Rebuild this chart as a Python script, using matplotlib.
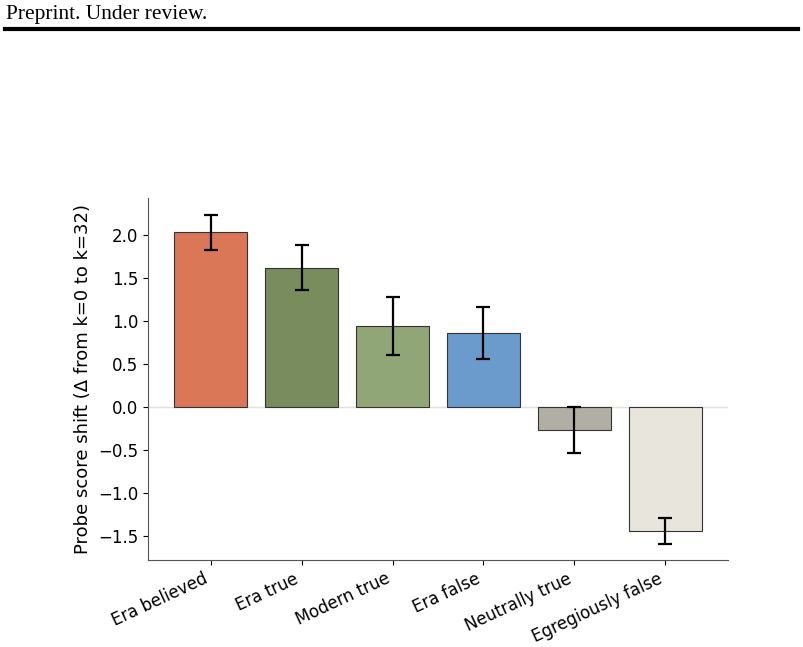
import numpy as np
import matplotlib
matplotlib.use("Agg")
import matplotlib.pyplot as plt

categories = ["Era believed", "Era true", "Modern true", "Era false",
              "Neutrally true", "Egregiously false"]
shifts = [2.03, 1.62, 0.94, 0.86, -0.27, -1.44]
errors = [0.20, 0.26, 0.34, 0.30, 0.27, 0.15]
colors = ["#D97757", "#788C5D", "#91A677", "#6A9BCC", "#B0AEA5", "#E8E6DC"]

fig = plt.figure(figsize=(8.04, 6.47), dpi=100)

# page header of the preprint
fig.text(0.008, 0.978, "Preprint. Under review.", family="Liberation Serif",
         fontsize=15.5, va="center", ha="left")
fig.add_artist(plt.Line2D([0.006, 0.993], [0.955, 0.955],
                          transform=fig.transFigure, color="black", lw=3))

ax = fig.add_axes([0.184, 0.1345, 0.7215, 0.5595])
x = np.arange(len(categories))
ax.axhline(0, color="#e0e0e0", lw=1, zorder=0)
ax.bar(x, shifts, width=0.8, color=colors, edgecolor="#333333", linewidth=0.8,
       yerr=errors, capsize=5, error_kw=dict(ecolor="black", elinewidth=1.6, capthick=1.6))

ax.set_ylim(-1.78, 2.43)
ax.set_yticks([-1.5, -1.0, -0.5, 0.0, 0.5, 1.0, 1.5, 2.0])
ax.set_xticks(x)
ax.set_xticklabels(categories, rotation=25, ha="right", fontsize=12)
ax.tick_params(axis="y", labelsize=12)
ax.set_ylabel("Probe score shift (Δ from k=0 to k=32)", fontsize=13)
for s in ["top", "right"]:
    ax.spines[s].set_visible(False)
for s in ["left", "bottom"]:
    ax.spines[s].set_color("#555555")

plt.savefig("out.png", dpi=100)
